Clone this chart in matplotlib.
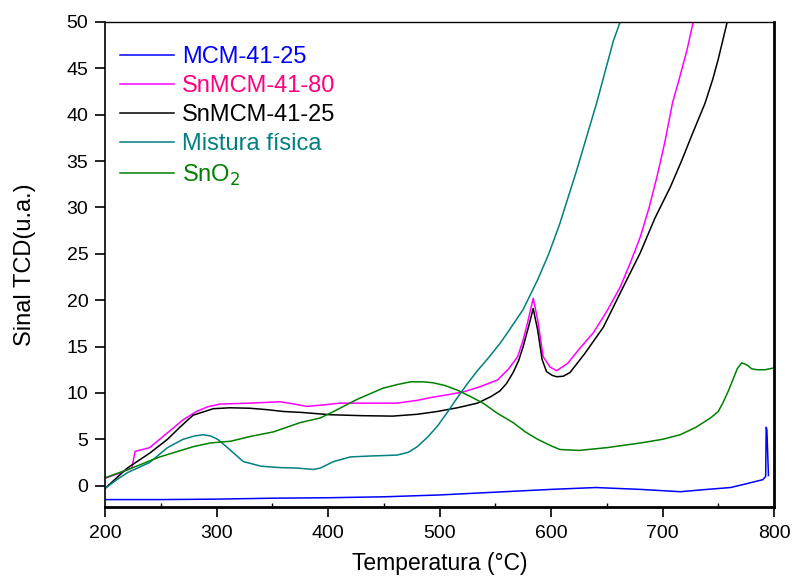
import numpy as np
import matplotlib.pyplot as plt
from matplotlib.ticker import MultipleLocator

plt.rcParams['font.family'] = ['Liberation Sans', 'DejaVu Sans']

# MCM-41-25
t_mcm = [200, 250, 300, 350, 400, 450, 500, 550, 600, 640, 680, 716, 740, 761, 775, 790, 792.5, 793, 793.6, 795]
y_mcm = [-1.5, -1.5, -1.45, -1.35, -1.3, -1.2, -1.0, -0.7, -0.4, -0.2, -0.4, -0.65, -0.4, -0.2, 0.2, 0.65, 1.0, 6.3, 6.0, 1.1]

# SnMCM-41-80
t_sn80 = [200, 212, 224, 227, 240, 249, 260, 270, 282, 292, 303, 330, 357, 370, 381, 395, 411, 440, 462, 480,
          492, 507, 521, 537, 552, 562, 570, 575, 579, 584, 588, 593, 599, 605, 615, 625, 638, 650,
          662, 671, 680, 688, 695, 702, 709, 716, 722, 727.5]
y_sn80 = [0.8, 1.3, 1.9, 3.7, 4.1, 5.0, 6.1, 7.1, 8.0, 8.5, 8.8, 8.9, 9.05, 8.8, 8.55, 8.7, 8.9, 8.9, 8.9, 9.2,
          9.5, 9.8, 10.1, 10.7, 11.4, 12.6, 13.9, 15.7, 17.6, 20.2, 17.9, 13.9, 12.8, 12.4, 13.2, 14.7, 16.5, 18.8,
          21.4, 24.0, 26.8, 30.0, 33.3, 37.0, 41.3, 44.3, 47.0, 50.0]

# SnMCM-41-25
t_sn25 = [200, 210, 220, 240, 256, 268, 279, 297, 312, 330, 345, 360, 376, 402, 430, 458, 480, 498, 516, 534,
          546, 554, 560, 566, 571, 575, 580, 584, 588, 592, 596, 601, 605, 611, 617, 630, 647, 663,
          680, 693, 707, 717, 727, 738, 745, 750, 754, 758]
y_sn25 = [-0.3, 0.8, 1.9, 3.5, 5.0, 6.4, 7.6, 8.3, 8.4, 8.35, 8.2, 8.0, 7.9, 7.65, 7.55, 7.5, 7.7, 8.0, 8.4, 8.9,
          9.6, 10.2, 11.0, 12.2, 13.5, 15.0, 17.2, 19.1, 16.8, 13.6, 12.3, 11.9, 11.75, 11.8, 12.2, 14.2, 17.1, 21.0,
          25.1, 28.8, 32.2, 35.0, 38.0, 41.2, 43.8, 46.0, 48.0, 50.0]

# Mistura fisica
t_mix = [200, 210, 220, 240, 256, 270, 280, 288, 295, 301, 308, 315, 324, 340, 357, 372, 387, 393, 405, 420,
         438, 450, 462, 472, 480, 489, 498, 507, 516, 525, 534, 544, 554, 561, 575, 588, 598, 608, 623,
         641, 656, 662]
y_mix = [-0.3, 0.6, 1.4, 2.5, 4.1, 5.0, 5.35, 5.5, 5.35, 5.0, 4.3, 3.55, 2.6, 2.1, 1.95, 1.9, 1.75, 1.9, 2.6, 3.1,
         3.2, 3.25, 3.3, 3.6, 4.2, 5.2, 6.4, 7.9, 9.5, 11.0, 12.4, 13.8, 15.3, 16.5, 19.0, 22.2, 25.0, 28.3, 34.0,
         41.3, 48.0, 50.0]

# SnO2
t_sno2 = [200, 224, 249, 279, 294, 313, 330, 351, 375, 393, 405, 426, 449, 462, 474, 485, 494, 505, 516, 528,
          539, 552, 566, 577, 588, 600, 608, 625, 650, 680, 700, 716, 730, 743, 750, 754, 759, 763, 767,
          771, 776, 780, 785, 792, 800]
y_sno2 = [0.85, 1.9, 3.1, 4.2, 4.6, 4.8, 5.3, 5.8, 6.8, 7.3, 8.0, 9.3, 10.5, 10.9, 11.2, 11.2, 11.1, 10.8, 10.3, 9.6,
          8.9, 7.8, 6.8, 5.8, 5.0, 4.3, 3.9, 3.8, 4.1, 4.6, 5.0, 5.5, 6.3, 7.3, 8.0, 8.9, 10.2, 11.4, 12.6,
          13.25, 13.0, 12.6, 12.5, 12.5, 12.7]

fig = plt.figure(figsize=(7.92, 5.77), dpi=100)
ax = fig.add_axes([0.1326, 0.1213, 0.8447, 0.8406])

lw = 1.1
ax.plot(t_mcm, y_mcm, color='#0000ff', lw=lw, label='MCM-41-25')
ax.plot(t_sn80, y_sn80, color='#ff00ff', lw=lw, label='SnMCM-41-80')
ax.plot(t_sn25, y_sn25, color='black', lw=lw, label='SnMCM-41-25')
ax.plot(t_mix, y_mix, color='#008080', lw=lw, label='Mistura física')
ax.plot(t_sno2, y_sno2, color='#008000', lw=lw, label='SnO$_2$')

ax.set_xlim(200, 800)
ax.set_ylim(-2.3, 50)
ax.xaxis.set_major_locator(MultipleLocator(100))
ax.xaxis.set_minor_locator(MultipleLocator(50))
ax.yaxis.set_major_locator(MultipleLocator(5))
ax.tick_params(axis='both', which='major', direction='out', length=7, width=1.2, labelsize=14)
ax.tick_params(axis='x', which='major', pad=6)
ax.tick_params(axis='y', which='major', pad=5)
ax.tick_params(axis='x', which='minor', direction='in', length=3, width=1)
for s in ax.spines.values():
    s.set_linewidth(1.2)
ax.spines['top'].set_linewidth(1.0)
ax.spines['right'].set_linewidth(2)
ax.spines['bottom'].set_linewidth(2)

ax.set_xlabel('Temperatura (°C)', fontsize=16.5, labelpad=7.5)
ax.set_ylabel('Sinal TCD(u.a.)', fontsize=17, labelpad=22)

text_colors = ['#0000ff', '#ff0080', 'black', '#008080', '#008000']
leg = ax.legend(loc='upper left', bbox_to_anchor=(0.009, 0.97), borderaxespad=0,
                frameon=False, fontsize=17, handlelength=2.25, handletextpad=0.34,
                labelspacing=0.3)
for txt, c in zip(leg.get_texts(), text_colors):
    txt.set_color(c)

fig.savefig('out.png', dpi=100)
